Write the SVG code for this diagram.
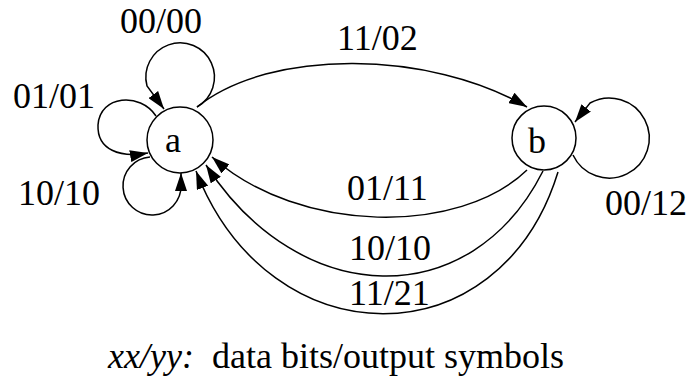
<svg xmlns="http://www.w3.org/2000/svg" width="691" height="383" viewBox="0 0 691 383">
<style>
.n{fill:#fff;stroke:#000;stroke-width:1.5}
.e{fill:none;stroke:#000;stroke-width:1.5;marker-end:url(#ah)}
.t{font-family:'Liberation Serif','Times New Roman',serif;font-size:36px;fill:#000}
.it{font-style:italic}
</style>
<defs>
<marker id="ah" viewBox="-18 -6 18 12" refX="0" refY="0" markerWidth="18" markerHeight="12" markerUnits="userSpaceOnUse" orient="auto">
<path d="M0,0 L-18,-6 L-18,6 z" fill="#000"/>
</marker>
</defs>
<g id="connectors">
<path class="e" d="M197,107 A34.3,34.3 0 1 0 147,86 L164,109"/>
<path class="e" d="M156,116 C140,92 100,95 98,125 C97,150 120,158 148,153"/>
<path class="e" d="M150,157 A29,29 0 1 0 181,185 L181,173"/>
<path class="e" d="M197,107 C270,48 430,50 527,107"/>
<path class="e" d="M573,155 A40,40 0 1 0 590,103 L575,122"/>
<path class="e" d="M527,170 C460,235 300,235 212,157"/>
<path class="e" d="M543,171 C471,314 300,310 206,165"/>
<path class="e" d="M558,172 C500,361 270,361 196,171"/>
</g>
<g id="node-a">
<circle class="n" cx="180" cy="140" r="33"/>
<text class="t" x="173" y="152" text-anchor="middle">a</text>
</g>
<g id="node-b">
<circle class="n" cx="544" cy="138" r="32"/>
<text class="t" x="537" y="153" text-anchor="middle">b</text>
</g>
<g id="labels">
<text class="t" x="120" y="33">00/00</text>
<text class="t" x="13" y="108">01/01</text>
<text class="t" x="18" y="205">10/10</text>
<text class="t" x="337" y="50">11/02</text>
<text class="t" x="347" y="200">01/11</text>
<text class="t" x="349" y="260">10/10</text>
<text class="t" x="349" y="305">11/21</text>
<text class="t" x="605" y="215">00/12</text>
<text class="t" y="368"><tspan class="it" x="108">xx/yy:</tspan><tspan x="212">data bits/output symbols</tspan></text>
</g>
</svg>
